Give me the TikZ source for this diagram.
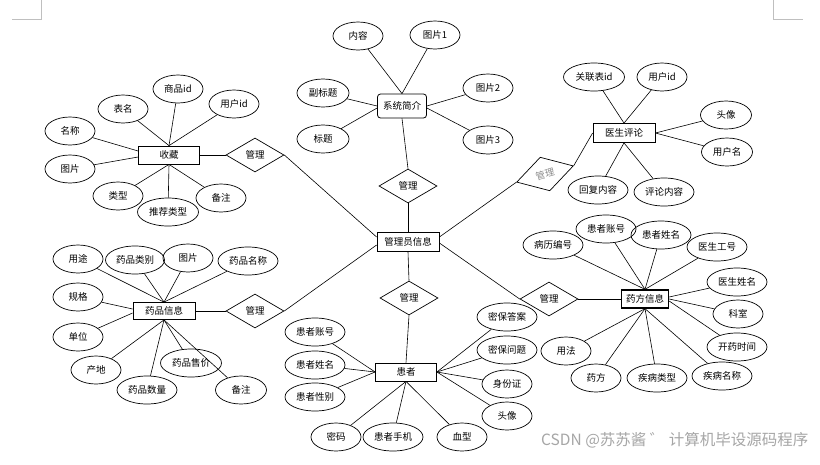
\documentclass[tikz,border=0pt]{standalone}
\usepackage{fontspec}
\setmainfont{Noto Sans CJK SC}
\usetikzlibrary{shapes.geometric}
\begin{document}
\begin{tikzpicture}[x=1pt,y=-1pt,
 font=\fontsize{9.5pt}{11pt}\selectfont,
 attr/.style={draw, ellipse, line width=0.7pt, inner sep=0pt, minimum width=50pt, minimum height=28pt},
 wattr/.style={attr, minimum width=60pt},
 ent/.style={draw, rectangle, line width=0.8pt, inner sep=0pt, minimum width=61pt, minimum height=18pt},
 rel/.style={draw, diamond, line width=0.7pt, inner sep=0pt, aspect=1.7, minimum width=58pt, minimum height=34pt},
 link/.style={line width=0.6pt},
 blink/.style={line width=1pt},
 cornermark/.style={draw=black!25, line width=0.8pt}
]
\useasboundingbox (0,0) rectangle (820,464);
\fill[white] (0,0) rectangle (820,464);
% corner marks
\draw[cornermark] (12,19) -- (41,19) -- (41,0);
\draw[cornermark] (773,0) -- (773,19) -- (803,19);

% ---------- entities ----------
\node[ent] (sc) at (169,155) {收藏};
\node[ent, rounded corners=3pt, minimum width=49pt, minimum height=24pt] (xt) at (402,106) {系统简介};
\node[ent, minimum width=62pt, minimum height=19pt] (yp) at (624,133) {医生评论};
\node[ent, minimum width=62pt, minimum height=17pt] (yx) at (164,311) {药品信息};
\node[ent, minimum width=62pt, minimum height=19pt] (ad) at (408,242) {管理员信息};
\node[ent] (hz) at (406,372) {患者};
\node[ent, minimum width=47pt, line width=1.3pt] (yf) at (645,299) {药方信息};

% ---------- relations ----------
\node[rel] (r1) at (255,155) {管理};
\node[rel] (r2) at (408,186) {管理};
\node[rel] (r3) at (255,311) {管理};
\node[rel] (r4) at (409,298) {管理};
\node[rel] (r5) at (549,299) {管理};
\node[rel, rotate=16, minimum width=59pt, minimum height=35pt, text=black!45] (r6) at (545,174) {管理};

% ---------- 收藏 attributes ----------
\node[attr] (s1) at (70,131) {名称};
\node[attr] (s2) at (123,109) {表名};
\node[attr] (s3) at (178,89) {商品id};
\node[attr] (s4) at (234,104) {用户id};
\node[attr] (s5) at (70,169) {图片};
\node[attr] (s6) at (118,196) {类型};
\node[wattr, minimum width=61pt] (s7) at (168,212) {推荐类型};
\node[attr] (s8) at (221,198) {备注};

% ---------- 系统简介 attributes ----------
\node[attr] (x1) at (358,36) {内容};
\node[attr] (x2) at (435,35) {图片1};
\node[attr, minimum width=52pt] (x3) at (323,93) {副标题};
\node[attr] (x4) at (488,88) {图片2};
\node[attr, minimum width=52pt] (x5) at (323,139) {标题};
\node[attr] (x6) at (488,140) {图片3};

% ---------- 医生评论 attributes ----------
\node[wattr, minimum width=61pt] (p1) at (594,77) {关联表id};
\node[attr] (p2) at (662,77) {用户id};
\node[attr, minimum width=51pt] (p3) at (726,115) {头像};
\node[attr, minimum width=51pt] (p4) at (727,152) {用户名};
\node[wattr] (p5) at (598,190) {回复内容};
\node[wattr] (p6) at (664,192) {评论内容};

% ---------- 药品信息 attributes ----------
\node[attr] (m1) at (78,259) {用途};
\node[wattr, minimum width=59pt] (m2) at (135,260) {药品类别};
\node[attr] (m3) at (188,258) {图片};
\node[wattr] (m4) at (248,261) {药品名称};
\node[attr] (m5) at (78,297) {规格};
\node[attr] (m6) at (78,337) {单位};
\node[attr] (m7) at (96,370) {产地};
\node[wattr] (m8) at (147,390) {药品数量};
\node[wattr, minimum width=61pt] (m9) at (191,363) {药品售价};
\node[attr, minimum width=51pt] (m10) at (241,390) {备注};

% ---------- 患者 attributes ----------
\node[wattr] (h1) at (315,332) {患者账号};
\node[wattr] (h2) at (315,365) {患者姓名};
\node[wattr] (h3) at (315,397) {患者性别};
\node[attr] (h4) at (336,437) {密码};
\node[wattr] (h5) at (393,437) {患者手机};
\node[attr] (h6) at (462,437) {血型};
\node[wattr] (h7) at (507,317) {密保答案};
\node[wattr] (h8) at (507,350) {密保问题};
\node[attr] (h9) at (507,384) {身份证};
\node[attr] (h10) at (507,416) {头像};

% ---------- 药方信息 attributes ----------
\node[wattr] (f1) at (553,245) {病历编号};
\node[wattr] (f2) at (606,229) {患者账号};
\node[wattr] (f3) at (661,235) {患者姓名};
\node[wattr] (f4) at (717,247) {医生工号};
\node[wattr] (f5) at (737,282) {医生姓名};
\node[attr] (f6) at (738,314) {科室};
\node[wattr] (f7) at (737,347) {开药时间};
\node[wattr] (f8) at (722,376) {疾病名称};
\node[wattr] (f9) at (657,378) {疾病类型};
\node[attr] (f10) at (596,378) {药方};
\node[attr] (f11) at (566,351) {用法};

% ---------- connectors ----------
\draw[link] (s1) -- ([yshift=4pt]sc.west);
\draw[link] (s5) -- ([yshift=-2pt]sc.west);
\foreach \n in {s2,s3,s4} \draw[link] (\n) -- (sc.north);
\foreach \n in {s6,s7,s8} \draw[link] (\n) -- (sc.south);
\draw[blink] (sc.east) -- (r1.west);
\draw[link] (r1.east) -- ([yshift=5pt]ad.west);

\foreach \n in {x1,x2} \draw[link] (\n) -- (xt.north);
\draw[link] (x3) -- (xt.west);
\draw[link] (x5) -- ([yshift=-2pt]xt.west);
\draw[link] (x4) -- (xt.east);
\draw[link] (x6) -- ([yshift=-2pt]xt.east);
\draw[link] (xt.south) -- (r2.north);
\draw[link] (r2.south) -- (ad.north);

\foreach \n in {p1,p2} \draw[link] (\n) -- (yp.north);
\foreach \n in {p3,p4} \draw[link] (\n) -- (yp.east);
\foreach \n in {p5,p6} \draw[link] (\n) -- (yp.south);
\draw[link] ([yshift=5pt]ad.east) -- (r6.west);
\draw[link] (r6.east) -- (yp.west);

\foreach \n in {m1,m2,m3,m4} \draw[link] (\n) -- (yx.north);
\draw[link] (m5) -- ([yshift=2pt]yx.west);
\draw[link] (m6) -- ([yshift=-2pt]yx.west);
\foreach \n in {m7,m8,m9,m10} \draw[link] (\n) -- (yx.south);
\draw[blink] (yx.east) -- (r3.west);
\draw[link] (r3.east) -- ([yshift=-3pt]ad.west);

\foreach \n in {h1,h2,h3} \draw[link] (\n) -- (hz.west);
\foreach \n in {h4,h5,h6} \draw[link] (\n) -- (hz.south);
\foreach \n in {h7,h8,h9,h10} \draw[link] (\n) -- (hz.east);
\draw[link] (ad.south) -- (r4.north);
\draw[link] (r4.south) -- (hz.north);

\foreach \n in {f1,f2,f3,f4} \draw[link] (\n) -- (yf.north);
\draw[link] (f5) -- ([yshift=2pt]yf.east);
\draw[link] (f6) -- (yf.east);
\draw[link] (f7) -- ([yshift=-2pt]yf.east);
\foreach \n in {f8,f9,f10,f11} \draw[link] (\n) -- (yf.south);
\draw[link] ([yshift=-1pt]ad.east) -- (r5.west);
\draw[blink] (r5.east) -- (yf.west);

% watermark
\node[anchor=west, text=black!35, inner sep=0pt, font=\fontsize{15.5pt}{17pt}\selectfont] (wm) at (541,440) {CSDN @苏苏酱 ゛ 计算机毕设源码程序};
\end{tikzpicture}
\end{document}
